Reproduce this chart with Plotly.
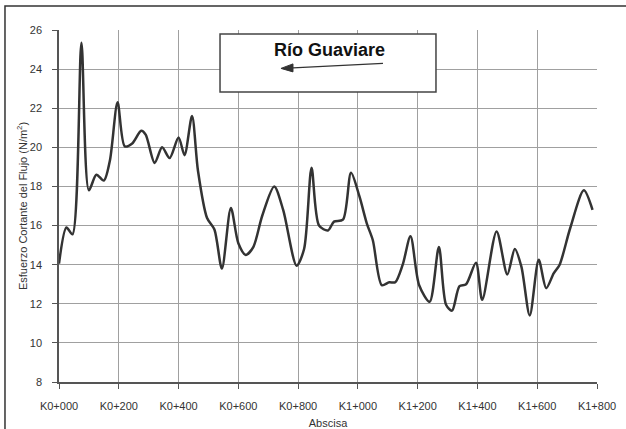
import plotly.graph_objects as go

# Abscisa (m) and shear stress values
abscisa = [0, 25, 45, 75, 100, 125, 150, 170, 196, 220, 245, 275, 290, 320, 345,
           370, 400, 420, 445, 465, 495, 520, 545, 575, 600, 625, 650, 680, 720, 750,
           795, 820, 845, 870, 900, 920, 950, 977, 1005, 1030, 1050, 1080, 1105, 1125,
           1150, 1176, 1205, 1240, 1271, 1295, 1315, 1340, 1362, 1395, 1416, 1464,
           1500, 1525, 1547, 1575, 1605, 1630, 1655, 1675, 1710, 1756, 1785]
esfuerzo = [14.05, 15.9, 15.55, 25.35, 17.8, 18.6, 18.3, 19.3, 22.3, 20.05, 20.2,
            20.85, 20.65, 19.2, 20.0, 19.45, 20.5, 19.6, 21.6, 18.8, 16.4, 15.8, 13.8,
            16.9, 15.1, 14.5, 14.9, 16.5, 18.0, 16.8, 13.95, 14.8, 18.95, 16.0, 15.75,
            16.2, 16.3, 18.7, 17.5, 16.1, 15.25, 12.95, 13.1, 13.1, 14.0, 15.45, 12.95,
            12.1, 14.9, 11.95, 11.65, 12.9, 13.0, 14.1, 12.2, 15.7, 13.5, 14.8, 13.9,
            11.4, 14.25, 12.8, 13.55, 14.0, 15.85, 17.8, 16.8]

x_ticks = [0, 200, 400, 600, 800, 1000, 1200, 1400, 1600, 1800]
x_labels = ["K0+000", "K0+200", "K0+400", "K0+600", "K0+800",
            "K1+000", "K1+200", "K1+400", "K1+600", "K1+800"]
y_ticks = [8, 10, 12, 14, 16, 18, 20, 22, 24, 26]

FONT = "Liberation Sans, Arial, sans-serif"
DARK = "#333333"
GRID = "#a0a0a0"

fig = go.Figure()
fig.add_trace(go.Scatter(
    x=abscisa,
    y=esfuerzo,
    mode="lines",
    line=dict(color=DARK, width=2.5, shape="spline", smoothing=0.8),
    showlegend=False,
))

axis_common = dict(
    showline=True,
    linecolor="#555555",
    linewidth=1.5,
    showgrid=True,
    gridcolor=GRID,
    gridwidth=1,
    ticks="outside",
    ticklen=5,
    tickcolor="#555555",
    tickfont=dict(family=FONT, size=11, color=DARK),
    zeroline=False,
    automargin=False,
)

fig.update_xaxes(
    range=[0, 1800],
    tickvals=x_ticks,
    ticktext=x_labels,
    ticklabelstandoff=8,
    title=dict(text="Abscisa", font=dict(family=FONT, size=11, color=DARK), standoff=18),
    **axis_common,
)
fig.update_yaxes(
    range=[8, 26],
    tickvals=y_ticks,
    ticklabelstandoff=8,
    title=dict(text="Esfuerzo Cortante del Flujo (N/m<sup>2</sup>)",
               font=dict(family=FONT, size=11, color=DARK), standoff=0),
    **axis_common,
)

# outer chart frame and the label box
fig.add_shape(type="rect", xref="paper", yref="paper",
              x0=-0.1004, x1=1.06, y0=-0.14, y1=1.068,
              line=dict(color=DARK, width=1.5), layer="below")
fig.add_shape(type="rect", xref="paper", yref="paper",
              x0=0.2993, x1=0.7007, y0=0.8239, y1=0.9886,
              line=dict(color="#444444", width=1.5), fillcolor="white", layer="above")

# flow direction arrow inside the box (shaft + filled head)
fig.add_shape(type="line", xref="paper", yref="paper",
              x0=0.6022, y0=0.9054, x1=0.4349, y1=0.8923,
              line=dict(color=DARK, width=1.3), layer="above")
fig.add_shape(type="path", xref="paper", yref="paper",
              path="M 0.4126 0.8909 L 0.4349 0.9037 L 0.4349 0.8810 Z",
              fillcolor=DARK, line=dict(color=DARK, width=1), layer="above")

fig.add_annotation(text="<b>Río Guaviare</b>", xref="paper", yref="paper",
                   x=0.5019, y=0.943, xanchor="center", yanchor="middle",
                   showarrow=False,
                   font=dict(family=FONT, size=18, color="#111111"))

fig.update_layout(
    width=626,
    height=429,
    margin=dict(l=59, r=29, t=30, b=47),
    paper_bgcolor="white",
    plot_bgcolor="white",
)

fig.write_html("out.html", config={"displayModeBar": False},
               post_script="document.body.style.margin='0';")
